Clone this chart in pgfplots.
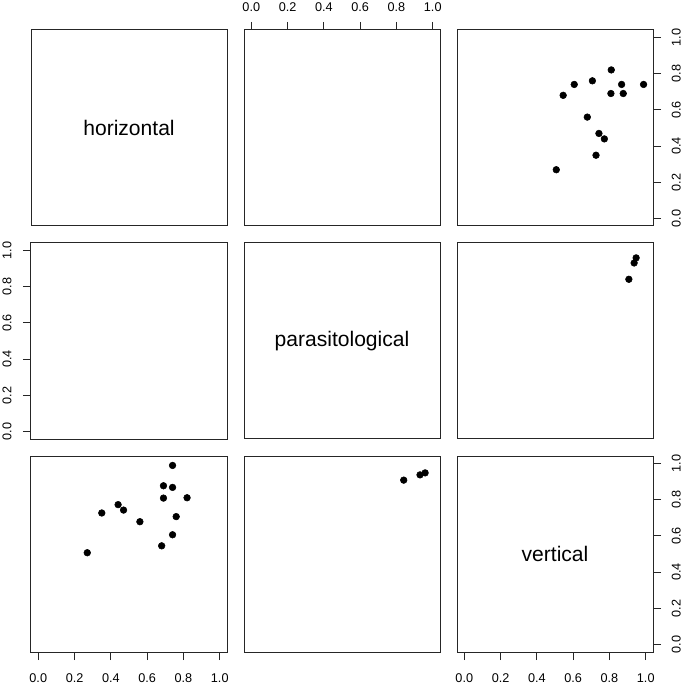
\documentclass[border=0pt]{standalone}
\usepackage{pgfplots}
\usepackage{pgfplotstable}
\pgfplotsset{compat=1.18}
\usepackage{fontspec}
\setmainfont{Liberation Sans}

\pgfplotstableread{
h v
0.74 0.988
0.69 0.876
0.74 0.867
0.69 0.808
0.82 0.810
0.44 0.772
0.47 0.742
0.35 0.726
0.56 0.678
0.76 0.706
0.74 0.606
0.68 0.545
0.27 0.507
}\hvtable

\pgfplotstableread{
p v
0.840 0.907
0.930 0.936
0.958 0.947
}\pvtable

\tikzset{diag/.style={font=\fontsize{15.8}{18}\selectfont}}

\pgfplotsset{
  pairpanel/.style={
    scale only axis, width=147pt, height=147pt,
    anchor=north west,
    xmin=-0.04, xmax=1.04, ymin=-0.04, ymax=1.04,
    xtick={0,0.2,0.4,0.6,0.8,1}, ytick={0,0.2,0.4,0.6,0.8,1},
    tick align=outside, major tick length=6pt,
    axis line style={line width=0.75pt, black!85},
    every tick/.style={line width=0.75pt, black!85},
    tick label style={font=\fontsize{9.5}{11}\selectfont},
    /pgf/number format/assume math mode=true,
    /pgf/number format/fixed, /pgf/number format/fixed zerofill,
    /pgf/number format/precision=1,
    clip=false,
  },
  nox/.style={xtick=\empty},
  noy/.style={ytick=\empty},
  bottomx/.style={xtick pos=left, xticklabel pos=left, xticklabel style={yshift=-6.5pt}},
  topx/.style={xtick pos=right, xticklabel pos=right, xticklabel style={yshift=4.5pt}},
  lefty/.style={ytick pos=left, yticklabel pos=left, yticklabel style={xshift=-5pt, rotate=90, anchor=south}},
  righty/.style={ytick pos=right, yticklabel pos=right, yticklabel style={xshift=4.5pt, rotate=90, anchor=north}},
  dots/.style={only marks, mark=*, mark size=2.5pt, black},
}

\begin{document}
\begin{tikzpicture}
\useasboundingbox (0,0) rectangle (513.75pt,-513pt);

% Row 1
\begin{axis}[pairpanel, at={(23.25pt,-22.5pt)}, nox, noy]
\node[diag] at (axis cs:0.5,0.5) {horizontal};
\end{axis}
\begin{axis}[pairpanel, at={(183pt,-22.5pt)}, noy, topx]
\end{axis}
\begin{axis}[pairpanel, at={(342.75pt,-22.5pt)}, nox, righty]
\addplot[dots] table[x=v, y=h] {\hvtable};
\end{axis}

% Row 2
\begin{axis}[pairpanel, at={(23.25pt,-182.25pt)}, nox, lefty]
\end{axis}
\begin{axis}[pairpanel, at={(183pt,-182.25pt)}, nox, noy]
\node[diag] at (axis cs:0.5,0.5) {parasitological};
\end{axis}
\begin{axis}[pairpanel, at={(342.75pt,-182.25pt)}, nox, noy]
\addplot[dots] table[x=v, y=p] {\pvtable};
\end{axis}

% Row 3
\begin{axis}[pairpanel, at={(23.25pt,-342pt)}, noy, bottomx]
\addplot[dots] table[x=h, y=v] {\hvtable};
\end{axis}
\begin{axis}[pairpanel, at={(183pt,-342pt)}, nox, noy]
\addplot[dots] table[x=p, y=v] {\pvtable};
\end{axis}
\begin{axis}[pairpanel, at={(342.75pt,-342pt)}, bottomx, righty]
\node[diag] at (axis cs:0.5,0.5) {vertical};
\end{axis}
\end{tikzpicture}
\end{document}
